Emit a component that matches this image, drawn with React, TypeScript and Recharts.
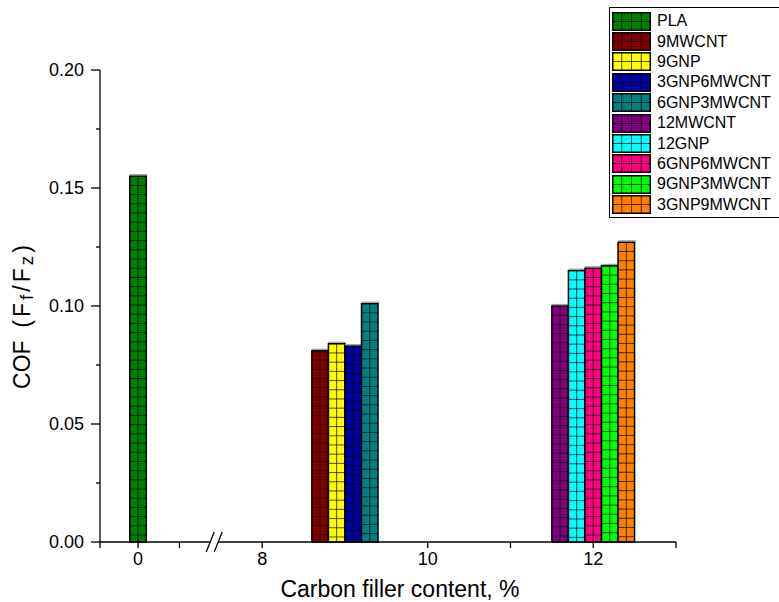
import React from 'react';
import { BarChart, Bar, XAxis, YAxis, Legend, Label, ReferenceDot } from 'recharts';

const seriesNames = ['PLA', '9MWCNT', '9GNP', '3GNP6MWCNT', '6GNP3MWCNT', '12MWCNT', '12GNP', '6GNP6MWCNT', '9GNP3MWCNT', '3GNP9MWCNT'];
const seriesColors = ['#008000', '#800000', '#ffff00', '#0000a0', '#008080', '#800080', '#00ffff', '#ff0080', '#00ff00', '#ff8000'];
// filler content (%) each sample sits at
const fillerContent = [0, 9, 9, 9, 9, 12, 12, 12, 12, 12];
const cofValues = [0.155, 0.081, 0.084, 0.083, 0.101, 0.1, 0.115, 0.116, 0.117, 0.127];

const xMajorTicks = [0, 8, 10, 12];
const xMinorTicks = [0.5, 11, 13];
const yMajorTicks = [0, 0.05, 0.1, 0.15, 0.2];
const yMinorTicks = [0.025, 0.075, 0.125, 0.175];

const FONT = '"Liberation Sans", Arial, sans-serif';

// axis break: real 0.5 .. 7 is squeezed out
const BREAK_FROM = 0.5;
const BREAK_TO = 7;
const toDisplay = (v: number) => (v <= BREAK_FROM ? v : v - (BREAK_TO - BREAK_FROM));
const X_MIN = -0.46;
const X_MAX = toDisplay(13);
const SLOT = 0.2; // width of one bar slot in display units
const CELL_H = 9.2;

const rows = seriesNames.map((name, i) => {
  const group = fillerContent.map((c, j) => (c === fillerContent[i] ? j : -1)).filter((j) => j >= 0);
  const k = group.indexOf(i);
  const pos = toDisplay(fillerContent[i]) + (k - (group.length - 1) / 2) * SLOT;
  return { pos, [name]: cofValues[i] };
});

const xTickValues = [X_MIN, ...xMajorTicks.map(toDisplay), ...xMinorTicks.map(toDisplay)].sort((a, b) => a - b);
const yTickValues = [...yMajorTicks, ...yMinorTicks].sort((a, b) => a - b);

const GridBar = (props: any) => {
  const { x, y, width, height, fill } = props;
  if (!height || height <= 0.5) return null;
  const hLines = [];
  for (let yy = y + CELL_H; yy < y + height - 2; yy += CELL_H) {
    hLines.push(<line key={yy} x1={x} x2={x + width} y1={yy} y2={yy} />);
  }
  return (
    <g>
      <line x1={x} x2={x + width + 1} y1={y - 1.5} y2={y - 1.5} stroke="#a0a0a0" strokeWidth={1.2} />
      <rect x={x} y={y} width={width} height={height} fill={fill} />
      <g stroke="rgba(0,0,0,0.7)" strokeWidth={1}>
        <line x1={x + width / 2} x2={x + width / 2} y1={y} y2={y + height} />
        {hLines}
      </g>
      <rect x={x} y={y} width={width} height={height} fill="none" stroke="#000" strokeWidth={1.5} />
    </g>
  );
};

const XTick = (props: any) => {
  const { x, y, payload } = props;
  const axisY = y - 6;
  const idx = xMajorTicks.findIndex((t) => Math.abs(toDisplay(t) - payload.value) < 1e-6);
  return (
    <g>
      <line x1={x} x2={x} y1={axisY} y2={axisY + 6} stroke="#000" strokeWidth={1.3} />
      {idx >= 0 && (
        <text x={x} y={axisY + 23} textAnchor="middle" fontFamily={FONT} fontSize={18} fill="#000">
          {xMajorTicks[idx]}
        </text>
      )}
    </g>
  );
};

const YTick = (props: any) => {
  const { x, y, payload } = props;
  const axisX = x + 16;
  const major = yMajorTicks.some((t) => Math.abs(t - payload.value) < 1e-9);
  return (
    <g>
      <line x1={axisX - (major ? 9 : 4)} x2={axisX} y1={y} y2={y} stroke="#000" strokeWidth={1.3} />
      {major && (
        <text x={x} y={y} dy="0.36em" textAnchor="end" fontFamily={FONT} fontSize={18} fill="#000">
          {payload.value.toFixed(2)}
        </text>
      )}
    </g>
  );
};

const BreakMark = (props: any) => {
  const { cx, cy } = props;
  return (
    <g>
      <rect x={cx - 4} y={cy - 2} width={8} height={4} fill="#fff" />
      <line x1={cx - 8} y1={cy + 10} x2={cx} y2={cy - 10} stroke="#000" strokeWidth={1.3} />
      <line x1={cx} y1={cy + 10} x2={cx + 8} y2={cy - 10} stroke="#000" strokeWidth={1.3} />
    </g>
  );
};

const YTitle = (props: any) => {
  const vb = props.viewBox;
  const cy = vb.y + vb.height / 2 + 11;
  return (
    <text x={30} y={cy} transform={`rotate(-90, 30, ${cy})`} textAnchor="middle" fontFamily={FONT} fontSize={23} fill="#000">
      COF{'\u00a0\u00a0'}
      <tspan letterSpacing={3}>(F</tspan>
      <tspan fontSize={19} dy={3} letterSpacing={3}>f</tspan>
      <tspan dy={-3} letterSpacing={3}>/F</tspan>
      <tspan fontSize={19} dy={3} letterSpacing={3}>z</tspan>
      <tspan dy={-3}>)</tspan>
    </text>
  );
};

const XTitle = (props: any) => {
  const vb = props.viewBox;
  return (
    <text x={vb.x + vb.width / 2 + 12} y={597} textAnchor="middle" fontFamily={FONT} fontSize={23} fill="#000">
      Carbon filler content, %
    </text>
  );
};

const Swatch = ({ color }: { color: string }) => {
  const w = 39;
  const h = 19;
  return (
    <svg width={w} height={h} style={{ display: 'block' }}>
      <rect x={0.75} y={0.75} width={w - 1.5} height={h - 1.5} fill={color} />
      <g stroke="rgba(0,0,0,0.7)" strokeWidth={1}>
        {[1, 2, 3].map((k) => (
          <line key={k} x1={(w * k) / 4} x2={(w * k) / 4} y1={0} y2={h} />
        ))}
        <line x1={0} x2={w} y1={h / 2} y2={h / 2} />
      </g>
      <rect x={0.75} y={0.75} width={w - 1.5} height={h - 1.5} fill="none" stroke="#000" strokeWidth={1.5} />
    </svg>
  );
};

const LegendBox = () => (
  <div style={{ border: '1px solid #000', background: '#fff', padding: '3px 0 2px 2px', width: 190, fontFamily: FONT, fontSize: 16, color: '#000' }}>
    {seriesNames.map((name, i) => (
      <div key={name} style={{ display: 'flex', alignItems: 'center', height: 20.4 }}>
        <Swatch color={seriesColors[i]} />
        <span style={{ marginLeft: 6, lineHeight: '20px', whiteSpace: 'nowrap' }}>{name}</span>
      </div>
    ))}
  </div>
);

export default function App() {
  return (
    <div style={{ position: 'absolute', left: 0, top: 0, width: 779, height: 602, overflow: 'hidden', background: '#fff' }}>
      <BarChart width={779} height={602} data={rows} margin={{ top: 70, right: 103, bottom: 10, left: 40 }}>
        <XAxis
          dataKey="pos"
          type="number"
          domain={[X_MIN, X_MAX]}
          ticks={xTickValues}
          tick={XTick}
          tickLine={false}
          tickSize={6}
          tickMargin={0}
          height={50}
          interval={0}
          axisLine={{ stroke: '#000', strokeWidth: 1.3 }}
        >
          <Label content={XTitle} />
        </XAxis>
        <YAxis
          type="number"
          domain={[0, 0.2]}
          ticks={yTickValues}
          tick={YTick}
          tickLine={false}
          tickSize={9}
          tickMargin={7}
          width={60}
          interval={0}
          axisLine={{ stroke: '#000', strokeWidth: 1.3 }}
        >
          <Label content={YTitle} />
        </YAxis>
        <Legend
          content={LegendBox}
          layout="vertical"
          align="center"
          verticalAlign="middle"
          wrapperStyle={{ left: 609, top: 7, width: 200, height: 'auto' }}
        />
        {seriesNames.map((name, i) => (
          <Bar
            key={name}
            dataKey={name}
            name={name}
            stackId="cof"
            fill={seriesColors[i]}
            barSize={16.5}
            shape={GridBar}
            isAnimationActive={false}
          />
        ))}
        <ReferenceDot x={0.92} y={0} r={0} shape={BreakMark} ifOverflow="visible" />
      </BarChart>
    </div>
  );
}
